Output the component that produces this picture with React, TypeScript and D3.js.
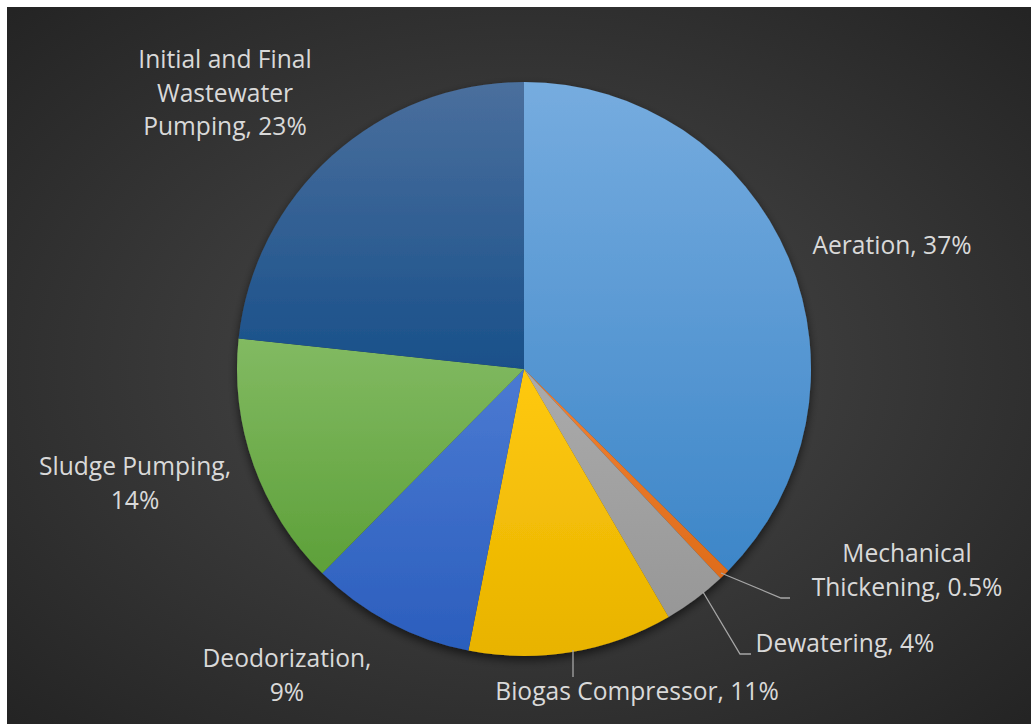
import React from "react";
import * as d3 from "d3";

const categories = [
  "Aeration",
  "Mechanical Thickening",
  "Dewatering",
  "Biogas Compressor",
  "Deodorization",
  "Sludge Pumping",
  "Initial and Final Wastewater Pumping",
];
const values = [37.4, 0.6, 3.6, 11.5, 9.3, 14.3, 23.3];
const percentLabels = ["37%", "0.5%", "4%", "11%", "9%", "14%", "23%"];
const labelLines = [
  ["Aeration, 37%"],
  ["Mechanical", "Thickening, 0.5%"],
  ["Dewatering, 4%"],
  ["Biogas Compressor, 11%"],
  ["Deodorization,", "9%"],
  ["Sludge Pumping,", "14%"],
  ["Initial and Final", "Wastewater", "Pumping, 23%"],
];
const topColors = ["#76acdf", "#f08236", "#ababab", "#ffc90f", "#4b7ad2", "#82ba62", "#4a6f9d"];
const bottomColors = ["#3d86c8", "#de6c1a", "#979797", "#e8b300", "#2b5ebd", "#5da039", "#19508a"];

// label layout: [anchor x, first baseline y]
const labelPos: [number, number][] = [
  [892, 254],
  [907, 562],
  [845, 652],
  [637, 700],
  [287, 667],
  [135, 475],
  [225, 68],
];
// leader lines (from slice edge to label)
const leaders: ([number, number][] | null)[] = [
  null,
  [[721, 573], [781, 598], [790, 598]],
  [[703, 592], [740, 654], [751, 654]],
  [[573, 650], [573, 677]],
  null,
  null,
  null,
];

export default function App() {
  const W = 1031, H = 724;
  const cx = 524, cy = 369, R = 287;
  const pie = d3.pie<number>().sort(null).value((d) => d)(values);
  const arc = d3.arc<d3.PieArcDatum<number>>().innerRadius(0).outerRadius(R);
  const fontFamily = "'Open Sans', 'Liberation Sans', sans-serif";
  return (
    <svg width={W} height={H} style={{ position: "absolute", left: 0, top: 0 }}>
      <defs>
        <radialGradient id="bg" cx="50%" cy="50%" r="70%">
          <stop offset="0%" stopColor="#4b4b4b" />
          <stop offset="100%" stopColor="#242424" />
        </radialGradient>
        {categories.map((c, i) => (
          <linearGradient key={c} id={`g${i}`} x1="0" y1="0" x2="0" y2="1">
            <stop offset="0%" stopColor={topColors[i]} />
            <stop offset="100%" stopColor={bottomColors[i]} />
          </linearGradient>
        ))}
        <filter id="shadow" x="-20%" y="-20%" width="140%" height="140%">
          <feDropShadow dx="0" dy="4" stdDeviation="5" floodColor="#000" floodOpacity="0.6" />
        </filter>
      </defs>
      <rect x={7} y={7} width={W - 7} height={H - 7} fill="url(#bg)" />
      <g transform={`translate(${cx},${cy})`} filter="url(#shadow)">
        {pie.map((p, i) => (
          <path key={categories[i]} d={arc(p) || ""} fill={`url(#g${i})`} />
        ))}
      </g>
      {leaders.map((l, i) =>
        l ? (
          <path
            key={"l" + i}
            d={d3.line()(l) || ""}
            fill="none"
            stroke="#a6a6a6"
            strokeWidth={1.3}
          />
        ) : null
      )}
      {labelLines.map((lines, i) => (
        <text
          key={"t" + i}
          x={labelPos[i][0]}
          y={labelPos[i][1]}
          textAnchor="middle"
          fill="#d9d9d9"
          fontFamily={fontFamily}
          fontSize={24.6}
        >
          {lines.map((ln, j) => (
            <tspan key={j} x={labelPos[i][0]} dy={j === 0 ? 0 : 33.5}>
              {ln}
            </tspan>
          ))}
        </text>
      ))}
    </svg>
  );
}
